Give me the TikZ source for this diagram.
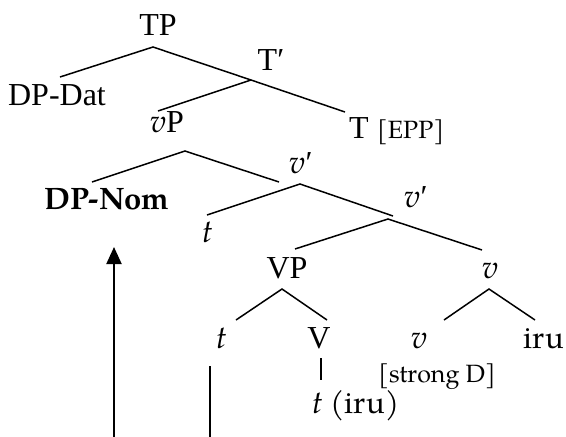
\documentclass[tikz,border=0pt]{standalone}
\usepackage{fontspec}
\setmainfont{Liberation Serif}
\newfontfamily\pal{TeX Gyre Pagella}
\newcommand{\iv}{{\pal\itshape v}}
\newcommand{\itt}{{\pal\itshape t}}
\usetikzlibrary{arrows.meta}
\tikzset{
  lbl/.style={inner sep=0pt, anchor=base, font=\fontsize{32}{36}\selectfont},
  sml/.style={inner sep=0pt, anchor=base, font=\fontsize{25}{28}\selectfont\pal},
  branch/.style={line width=1.5pt},
  mv/.style={line width=2pt}
}
\begin{document}
\begin{tikzpicture}[x=1pt,y=-1pt]
\useasboundingbox (0,0) rectangle (566,437);
% labels
\node[lbl] (TP) at (158,35) {TP};
\node[lbl] (Tbar) at (271,70) {T′};
\node[lbl] (DPDat) at (57,105) {DP-Dat};
\node[lbl] (vP) at (167,132) {\iv P};
\node[lbl] (T) at (359,138) {T};
\node[sml, anchor=base west] (EPP) at (377,138) {[EPP]};
\node[lbl, font=\fontsize{31}{36}\selectfont\pal\bfseries] (DPNom) at (107,209) {DP-Nom};
\node[lbl] (vbarA) at (301,173) {\iv′};
\node[lbl] (tA) at (208,242) {\itt};
\node[lbl] (vbarB) at (416,207) {\iv′};
\node[lbl] (VP) at (287,278) {VP};
\node[lbl] (vA) at (490,278) {\iv};
\node[lbl] (tB) at (222,348) {\itt};
\node[lbl] (V) at (319,348) {V};
\node[lbl] (vB) at (419,348) {\iv};
\node[lbl, font=\fontsize{31}{36}\selectfont\pal] (iru) at (544,348) {iru};
\node[sml] (strongD) at (437,382) {[strong D]};
\node[lbl, anchor=base west] (tiru) at (312,413) {\itt{} {\fontsize{31}{36}\selectfont\pal (iru)}};
% junction coordinates
\coordinate (TPj) at (153,47);
\coordinate (DPDatj) at (60,77);
\coordinate (Tbarj) at (251,80);
\coordinate (vPj1) at (158,111);
\coordinate (Tj) at (345,112);
\coordinate (vPj) at (185,151);
\coordinate (DPNomj) at (92,182);
\coordinate (vbarAj1) at (279,182);
\coordinate (vbarAj) at (300,184);
\coordinate (tAj) at (207,215);
\coordinate (vbarBj1) at (393,216);
\coordinate (vbarBj) at (388,219);
\coordinate (VPj1) at (295,249);
\coordinate (vAj1) at (482,250);
\coordinate (VPj) at (282,289);
\coordinate (tBj) at (236,320);
\coordinate (Vj) at (327,320);
\coordinate (vAj) at (489,289);
\coordinate (vBj) at (444,320);
\coordinate (iruj) at (535,320);
\coordinate (Vtop) at (321,358);
\coordinate (Vbot) at (321,380);
\coordinate (arrowfoot) at (114,437);
\coordinate (arrowtip) at (114,247);
\coordinate (linefoot) at (210,437);
\coordinate (linetop) at (210,366);
% branches
\draw[branch] (DPDatj) -- (TPj) -- (Tbarj);
\draw[branch] (vPj1) -- (Tbarj) -- (Tj);
\draw[branch] (DPNomj) -- (vPj) -- (vbarAj1);
\draw[branch] (tAj) -- (vbarAj) -- (vbarBj1);
\draw[branch] (VPj1) -- (vbarBj) -- (vAj1);
\draw[branch] (tBj) -- (VPj) -- (Vj);
\draw[branch] (vBj) -- (vAj) -- (iruj);
\draw[branch] (Vtop) -- (Vbot);
% movement lines
\draw[mv, -{Triangle[width=15pt,length=17pt]}] (arrowfoot) -- (arrowtip);
\draw[mv] (linefoot) -- (linetop);
\end{tikzpicture}
\end{document}
